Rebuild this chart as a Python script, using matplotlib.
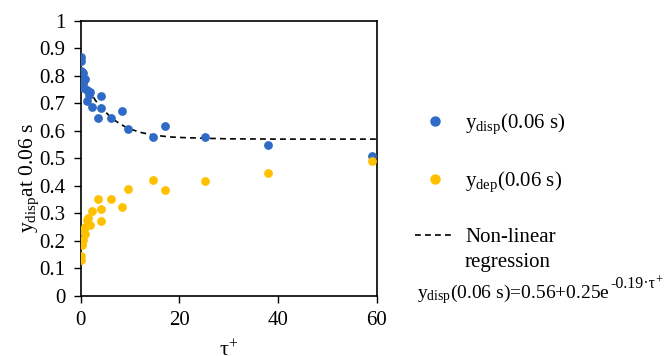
import matplotlib
matplotlib.use('Agg')
import matplotlib.pyplot as plt
from matplotlib.lines import Line2D

# ── Data ────────────────────────────────────────────────────────────────────
tau_disp = [0.0, 0.0, 0.0, 0.2, 0.5, 0.9, 0.4, 0.0, 0.7, 1.2, 1.9, 1.6, 1.2,
            2.2, 4.05, 4.05, 3.6, 6.1, 8.4, 9.5, 14.7, 17.0, 25.2, 38.0, 59.1]
y_disp = [0.869, 0.855, 0.818, 0.815, 0.81, 0.79, 0.778, 0.76, 0.754, 0.748,
          0.742, 0.73, 0.71, 0.687, 0.726, 0.684, 0.645, 0.645, 0.673, 0.607,
          0.576, 0.618, 0.579, 0.549, 0.509]

tau_dep = [0.0, 0.0, 0.2, 0.0, 0.5, 0.8, 0.4, 1.2, 1.5, 0.9, 2.2, 1.9,
           4.05, 4.05, 3.6, 6.1, 8.4, 9.5, 14.7, 17.0, 25.2, 38.0, 59.1]
y_dep = [0.13, 0.144, 0.184, 0.2, 0.205, 0.225, 0.239, 0.275, 0.285, 0.25,
         0.31, 0.257, 0.315, 0.273, 0.352, 0.352, 0.324, 0.389, 0.423, 0.384,
         0.418, 0.448, 0.49]

# regression curve, sampled from the dashed line in the picture
tau_fit = [0, 1, 2, 3, 4, 5, 6, 7, 8, 9, 10, 12, 14, 16, 18, 20, 25, 30, 40, 50, 60]
y_fit = [0.82, 0.78, 0.74, 0.71, 0.69, 0.67, 0.65, 0.637, 0.625, 0.615, 0.607,
         0.595, 0.587, 0.582, 0.578, 0.576, 0.573, 0.571, 0.57, 0.57, 0.57]

BLUE = '#2F6BC6'
YELLOW = '#FFC000'

plt.rcParams['font.family'] = ['Liberation Serif', 'DejaVu Serif']
plt.rcParams['mathtext.fontset'] = 'custom'
plt.rcParams['mathtext.rm'] = 'Liberation Serif'
plt.rcParams['mathtext.it'] = 'Liberation Serif:italic'

W, H = 669, 356
fig = plt.figure(figsize=(W / 100, H / 100), dpi=100)
ax = fig.add_axes([0.1206, 0.1685, 0.4424, 0.7733])

ax.plot(tau_fit, y_fit, color='black', linestyle=(0, (3.5, 2.5)), linewidth=1.2, zorder=2)
ax.scatter(tau_disp, y_disp, s=40, color=BLUE, zorder=3, linewidths=0)
ax.scatter(tau_dep, y_dep, s=40, color=YELLOW, zorder=3, linewidths=0)

ax.set_xlim(0, 60)
ax.set_ylim(0, 1)
ax.set_xticks([0, 20, 40, 60])
ax.set_yticks([i / 10 for i in range(11)])
ax.set_yticklabels(['0', '0.1', '0.2', '0.3', '0.4', '0.5', '0.6', '0.7', '0.8', '0.9', '1'])
ax.tick_params(direction='out', length=5, width=1, labelsize=15, pad=6, color='black')
for sp in ax.spines.values():
    sp.set_linewidth(1.2)
    sp.set_color('black')

fig.text(29 / W, 1 - 178 / H, r'y$_{\mathrm{disp}}$at 0.06 s', fontsize=15.5,
         rotation=90, ha='center', va='center')
ax.set_xlabel(r'$\mathrm{\tau}^{+}$', fontsize=16, labelpad=7)

handles = [
    Line2D([], [], marker='o', linestyle='none', color=BLUE, markersize=6.5),
    Line2D([], [], marker='o', linestyle='none', color=YELLOW, markersize=6.5),
    Line2D([], [], color='black', linestyle=(0, (3.5, 2.5)), linewidth=1.2),
]
labels = [r'y$_{\mathrm{disp}}$(0.06 s)', r'y$_{\mathrm{dep}}$(0.06 s)', 'Non-linear']
fig.legend(handles, labels, loc='upper left', bbox_to_anchor=(415 / W, 1 - 112 / H),
           frameon=False, fontsize=15, handlelength=1.9, handletextpad=0.5,
           labelspacing=1.6, borderpad=0, borderaxespad=0)

fig.text(465 / W, 1 - 263 / H, 'regression', fontsize=15, va='center', ha='left')

# regression equation: base text, then a small exponent right after it
eq = fig.text(417 / W, 1 - 298 / H, r'y$_{\mathrm{disp}}$(0.06 s)=0.56+0.25e',
              fontsize=14, va='baseline', ha='left')
fig.canvas.draw()
bb = eq.get_window_extent()
ex = fig.text(bb.x1 / W + 0.001, 1 - 288 / H, '-0.19·τ',
              fontsize=11.5, va='baseline', ha='left')
fig.canvas.draw()
bb2 = ex.get_window_extent()
fig.text(bb2.x1 / W, 1 - 284 / H, '+', fontsize=9, va='baseline', ha='left')

fig.savefig('out.png', dpi=100)
